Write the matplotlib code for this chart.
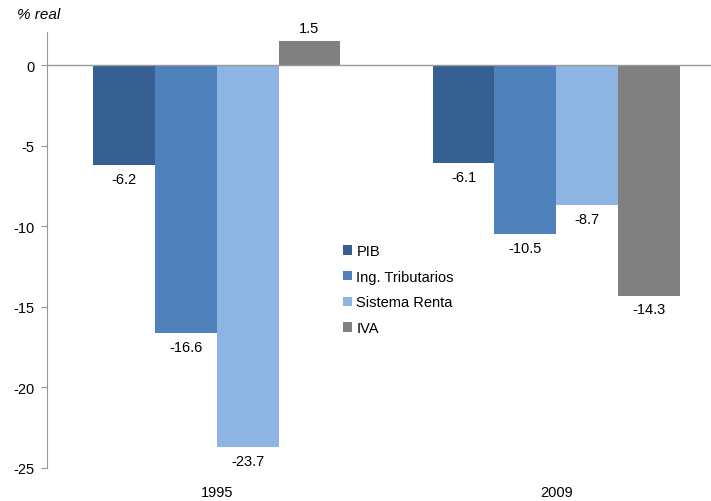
import numpy as np
import matplotlib.pyplot as plt

plt.rcParams['font.family'] = ['Liberation Sans', 'DejaVu Sans']

years = ['1995', '2009']
series = ['PIB', 'Ing. Tributarios', 'Sistema Renta', 'IVA']
pib = [-6.2, -6.1]
ing_trib = [-16.6, -10.5]
sist_renta = [-23.7, -8.7]
iva = [1.5, -14.3]
colors = ['#376092', '#4F81BD', '#8EB4E3', '#808080']

values = [pib, ing_trib, sist_renta, iva]

fig = plt.figure(figsize=(7.11, 5.02), dpi=100)
ax = fig.add_axes([47/711, 1 - 469/502, 679/711, (469 - 33)/502])

x = np.arange(len(years))
w = 0.182
for i, (name, vals) in enumerate(zip(series, values)):
    pos = x + (i - 1.5) * w
    bars = ax.bar(pos, vals, w, color=colors[i], label=name, zorder=2)
    for b, v in zip(bars, vals):
        if v >= 0:
            ax.annotate(f'{v:.1f}', (b.get_x() + w / 2, v), xytext=(0, 4),
                        textcoords='offset points', ha='center', va='bottom', fontsize=10.5)
        else:
            ax.annotate(f'{v:.1f}', (b.get_x() + w / 2, v), xytext=(0, -5),
                        textcoords='offset points', ha='center', va='top', fontsize=10.5)

ax.axhline(0, color='#999999', lw=1, zorder=3)
ax.set_xlim(-0.5, 1.5)
ax.set_ylim(-25, 2.05)
ax.set_yticks([0, -5, -10, -15, -20, -25])
ax.set_yticklabels(['0', '-5', '-10', '-15', '-20', '-25'])
ax.set_xticks(x)
ax.set_xticklabels(years)
ax.tick_params(axis='x', length=0, pad=12, labelsize=10.5)
ax.tick_params(axis='y', length=4, color='#999999', labelsize=10.5, pad=5)
for s in ['top', 'right', 'bottom']:
    ax.spines[s].set_visible(False)
ax.spines['left'].set_color('#999999')

fig.text(17/711, 1 - 15/502, '% real', fontsize=11, style='italic', va='center')

ax.legend(loc='upper left', bbox_to_anchor=(283/679, (469 - 232)/436), frameon=False,
          fontsize=10.5, handlelength=0.6, handleheight=0.6, handletextpad=0.3, labelspacing=0.8)

fig.savefig('out.png', dpi=100)
